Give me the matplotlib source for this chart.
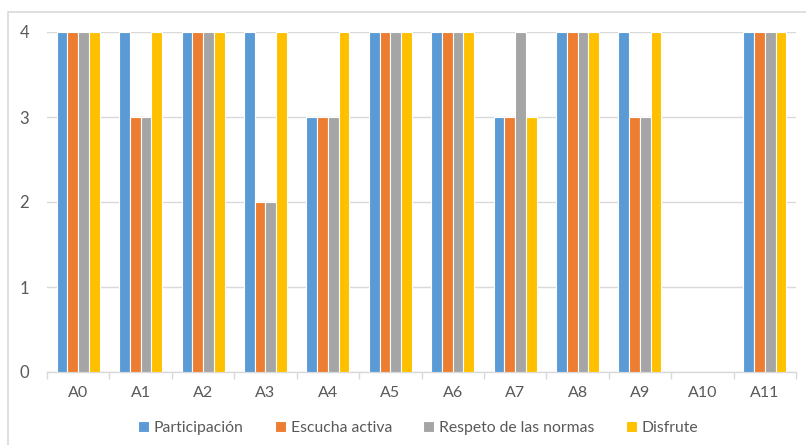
import matplotlib
matplotlib.use("Agg")
import matplotlib.pyplot as plt
from matplotlib.patches import Rectangle
import numpy as np

categories = ["A0", "A1", "A2", "A3", "A4", "A5", "A6", "A7", "A8", "A9", "A10", "A11"]
participacion = [4, 4, 4, 4, 3, 4, 4, 3, 4, 4, 0, 4]
escucha = [4, 3, 4, 2, 3, 4, 4, 3, 4, 3, 0, 4]
respeto = [4, 3, 4, 2, 3, 4, 4, 4, 4, 3, 0, 4]
disfrute = [4, 4, 4, 4, 4, 4, 4, 3, 4, 4, 0, 4]
series_names = ["Participación", "Escucha activa", "Respeto de las normas", "Disfrute"]
colors = ["#5B9BD5", "#ED7D31", "#A5A5A5", "#FFC000"]
yticks = [0, 1, 2, 3, 4]

plt.rcParams["font.family"] = ["Lato", "DejaVu Sans"]
text_color = "#595959"

fig = plt.figure(figsize=(8.06, 4.45), dpi=100)
ax = fig.add_axes([47 / 806, 1 - 372 / 445, (796 - 47) / 806, (372 - 32) / 445])

# outer chart frame (cut off at right and bottom)
fig.patches.append(Rectangle((8 / 806, -0.05), 1.2, 1 - 12 / 445 + 0.05,
                             transform=fig.transFigure, fill=False,
                             edgecolor="#D9D9D9", linewidth=1.2, zorder=0))

x = np.arange(len(categories))
slot = 0.172
for i, (vals, name, c) in enumerate(zip([participacion, escucha, respeto, disfrute],
                                        series_names, colors)):
    ax.bar(x + (i - 1.5) * slot, vals, width=slot, color=c, edgecolor="white",
           linewidth=0.8, label=name, zorder=3)

ax.set_xlim(-0.5, len(categories) - 0.5)
ax.set_ylim(0, 4)
ax.set_yticks(yticks)
ax.yaxis.grid(True, color="#D9D9D9", linewidth=1.0, zorder=0)
ax.set_axisbelow(True)
for s in ["top", "right", "left"]:
    ax.spines[s].set_visible(False)
ax.spines["bottom"].set_color("#D9D9D9")
ax.spines["bottom"].set_linewidth(1.0)

ax.set_xticks(x)
ax.set_xticklabels(categories)
ax.set_xticks(np.arange(-0.5, len(categories)), minor=True)
ax.tick_params(axis="x", which="major", length=0, pad=10, labelsize=11.5, labelcolor=text_color)
ax.tick_params(axis="x", which="minor", length=5, color="#D9D9D9", width=1.0)
ax.tick_params(axis="y", length=0, pad=13, labelsize=12, labelcolor=text_color)

leg = fig.legend(loc="center", bbox_to_anchor=(418 / 806, 1 - 428 / 445), ncol=4,
                 frameon=False, fontsize=11.3, handlelength=0.7, handleheight=0.7,
                 handletextpad=0.3, columnspacing=2.0)
for t in leg.get_texts():
    t.set_color(text_color)

fig.savefig("out.png", dpi=100)
